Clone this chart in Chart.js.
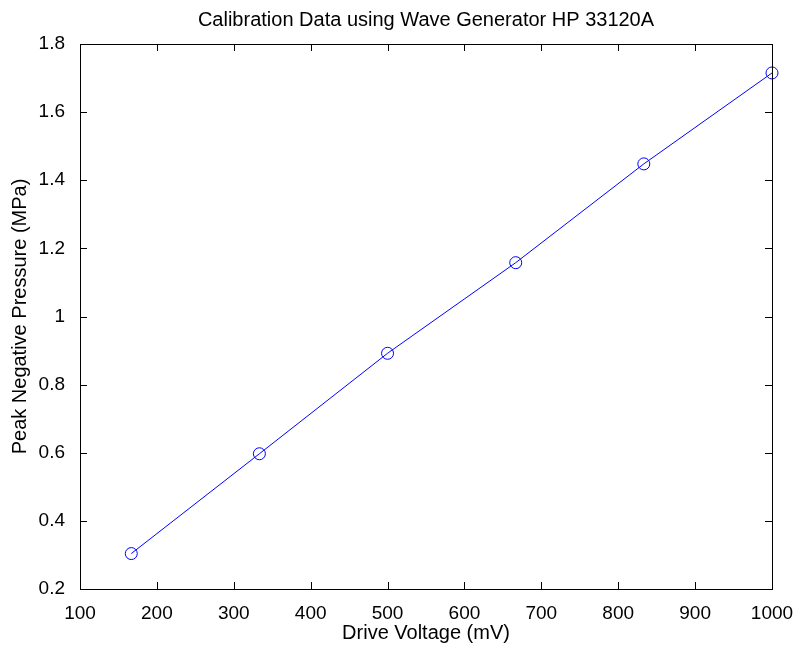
<!DOCTYPE html>
<html>
<head>
<meta charset="utf-8">
<script src="https://cdn.jsdelivr.net/npm/chart.js"></script>
<style>
  html, body { margin: 0; padding: 0; background: #fff; }
  #wrap { width: 796px; height: 648px; }
</style>
</head>
<body>
<div id="wrap"><canvas id="calChart" width="796" height="648"></canvas></div>
<script>
// Calibration data (drive voltage in mV vs peak negative pressure in MPa)
const driveVoltage = [166.7, 333.3, 500, 666.7, 833.3, 1000];
const peakPressure = [0.304, 0.597, 0.892, 1.158, 1.448, 1.715];

const xTicks = [100, 200, 300, 400, 500, 600, 700, 800, 900, 1000];
const yTicks = [0.2, 0.4, 0.6, 0.8, 1, 1.2, 1.4, 1.6, 1.8];

const fontFamily = 'Arial, "Liberation Sans", Helvetica, sans-serif';

// MATLAB-style box with inward ticks on all four sides
const boxTicks = {
  id: 'boxTicks',
  afterDatasetsDraw(chart) {
    const { ctx, chartArea: a, scales: { x, y } } = chart;
    const len = 7;
    ctx.save();
    ctx.strokeStyle = '#000';
    ctx.lineWidth = 1;
    ctx.beginPath();
    xTicks.forEach(v => {
      const px = Math.round(x.getPixelForValue(v)) + 0.5;
      ctx.moveTo(px, a.bottom); ctx.lineTo(px, a.bottom - len);
      ctx.moveTo(px, a.top); ctx.lineTo(px, a.top + len);
    });
    yTicks.forEach(v => {
      const py = Math.round(y.getPixelForValue(v)) + 0.5;
      ctx.moveTo(a.left, py); ctx.lineTo(a.left + len, py);
      ctx.moveTo(a.right, py); ctx.lineTo(a.right - len, py);
    });
    ctx.stroke();
    ctx.strokeRect(Math.round(a.left) + 0.5, Math.round(a.top) + 0.5,
                   Math.round(a.right - a.left), Math.round(a.bottom - a.top));
    ctx.restore();
  }
};

new Chart(document.getElementById('calChart'), {
  type: 'scatter',
  data: {
    datasets: [{
      data: driveVoltage.map((v, i) => ({ x: v, y: peakPressure[i] })),
      showLine: true,
      borderColor: '#0000ff',
      backgroundColor: 'rgba(0,0,0,0)',
      borderWidth: 1,
      pointStyle: 'circle',
      pointRadius: 6,
      pointBorderWidth: 1,
      pointBorderColor: '#0000ff',
      pointBackgroundColor: 'rgba(0,0,0,0)',
      clip: false
    }]
  },
  options: {
    responsive: false,
    animation: false,
    events: [],
    layout: { padding: { left: 0, right: 24, top: 0, bottom: 0 } },
    plugins: {
      legend: { display: false },
      tooltip: { enabled: false },
      title: {
        display: true,
        fullSize: false,
        text: 'Calibration Data using Wave Generator HP 33120A',
        color: '#000',
        font: { family: fontFamily, size: 20, weight: 'normal', lineHeight: 1.2 },
        padding: { top: 8, bottom: 12 }
      }
    },
    scales: {
      x: {
        type: 'linear',
        min: 100,
        max: 1000,
        afterBuildTicks: s => { s.ticks = xTicks.map(v => ({ value: v })); },
        afterFit: s => { s.height = 59; s.paddingLeft = 0; s.paddingRight = 0; },
        grid: { display: false },
        border: { display: false },
        ticks: {
          autoSkip: false,
          maxRotation: 0,
          color: '#000',
          padding: 5,
          font: { family: fontFamily, size: 19 },
          callback: v => String(v)
        },
        title: {
          display: true,
          text: 'Drive Voltage (mV)',
          color: '#000',
          font: { family: fontFamily, size: 20 },
          padding: { top: 0, bottom: 3 }
        }
      },
      y: {
        type: 'linear',
        min: 0.2,
        max: 1.8,
        afterBuildTicks: s => { s.ticks = yTicks.map(v => ({ value: v })); },
        afterFit: s => { s.width = 80; s.paddingTop = 0; s.paddingBottom = 0; },
        grid: { display: false },
        border: { display: false },
        ticks: {
          autoSkip: false,
          color: '#000',
          padding: 7,
          font: { family: fontFamily, size: 19 },
          callback: v => String(Number(v.toFixed(1)))
        },
        title: {
          display: true,
          text: 'Peak Negative Pressure (MPa)',
          color: '#000',
          font: { family: fontFamily, size: 20 },
          padding: { top: 8, bottom: 0 }
        }
      }
    }
  },
  plugins: [boxTicks]
});
</script>
</body>
</html>
